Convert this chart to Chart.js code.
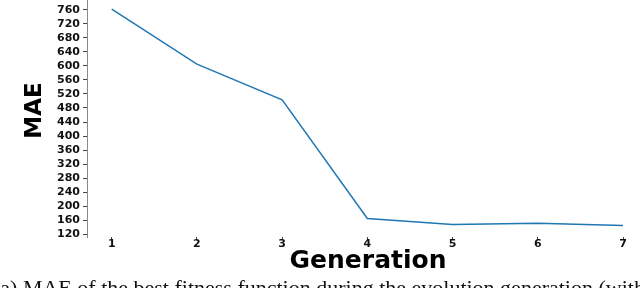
<!DOCTYPE html>
<html>
<head>
<meta charset="utf-8">
<script src="https://cdn.jsdelivr.net/npm/chart.js@4.4.1/dist/chart.umd.min.js"></script>
<style>
  html, body { margin: 0; padding: 0; background: #fff; }
  #wrap { position: relative; width: 640px; height: 288px; overflow: hidden; }
  #box { position: absolute; left: 0; top: 0; width: 640px; height: 276px; }
  #caption {
    position: absolute; left: -7px; top: 277px; white-space: nowrap;
    font-family: "Liberation Serif", serif; font-size: 22px; line-height: 22px; color: #111;
  }
</style>
</head>
<body>
<div id="wrap">
  <div id="box"><canvas id="maeChart"></canvas></div>
  <div id="caption">(a) MAE of the best fitness function during the evolution generation (with</div>
</div>
<script>
// values
const generations = [1, 2, 3, 4, 5, 6, 7];
const maeValues = [762, 605, 503, 165, 148, 151, 145];
const yTickValues = [120, 160, 200, 240, 280, 320, 360, 400, 440, 480, 520, 560, 600, 640, 680, 720, 760];

document.addEventListener("DOMContentLoaded", () => {
  const ctx = document.getElementById("maeChart").getContext("2d");
  const tickFont = { family: "DejaVu Sans", weight: "bold", size: 11 };

  new Chart(ctx, {
    type: "line",
    data: {
      datasets: [
        {
          label: "MAE",
          data: generations.map((g, i) => ({ x: g, y: maeValues[i] })),
          borderColor: "#1f77b4",
          borderWidth: 1.5,
          pointRadius: 0,
          fill: false,
          tension: 0,
        },
      ],
    },
    options: {
      responsive: true,
      maintainAspectRatio: false,
      animation: false,
      layout: { padding: { left: 0, right: 17, top: 0, bottom: 0 } },
      plugins: {
        legend: { display: false },
        tooltip: { enabled: false },
      },
      scales: {
        x: {
          type: "linear",
          min: 0.71,
          max: 7,
          afterBuildTicks: (scale) => {
            scale.ticks = generations.map((v) => ({ value: v }));
          },
          afterFit: (scale) => {
            scale.height = 39;
            scale.paddingLeft = 0;
            scale.paddingRight = 0;
          },
          border: { display: false },
          grid: { drawOnChartArea: false, drawTicks: true, tickLength: 3, tickColor: "#444" },
          ticks: { font: tickFont, color: "#111", padding: -2, maxRotation: 0, autoSkip: false },
          // leading spaces nudge the title right, like the reference
          title: { display: true, text: "   Generation", font: { family: "DejaVu Sans", weight: "bold", size: 25 }, color: "#000", padding: 0 },
        },
        y: {
          min: 112,
          max: 788,
          afterBuildTicks: (scale) => {
            scale.ticks = yTickValues.map((v) => ({ value: v }));
          },
          afterFit: (scale) => {
            scale.width = 87;
            scale.paddingTop = 0;
            scale.paddingBottom = 0;
          },
          border: { display: true, color: "#888", width: 1 },
          grid: { drawOnChartArea: false, drawTicks: true, tickLength: 4, tickColor: "#444" },
          ticks: { font: tickFont, color: "#111", padding: 3, autoSkip: false },
          title: { display: true, text: "  MAE", font: { family: "DejaVu Sans", weight: "bold", size: 23 }, color: "#000", padding: { top: 21 } },
        },
      },
    },
  });
});
</script>
</body>
</html>
